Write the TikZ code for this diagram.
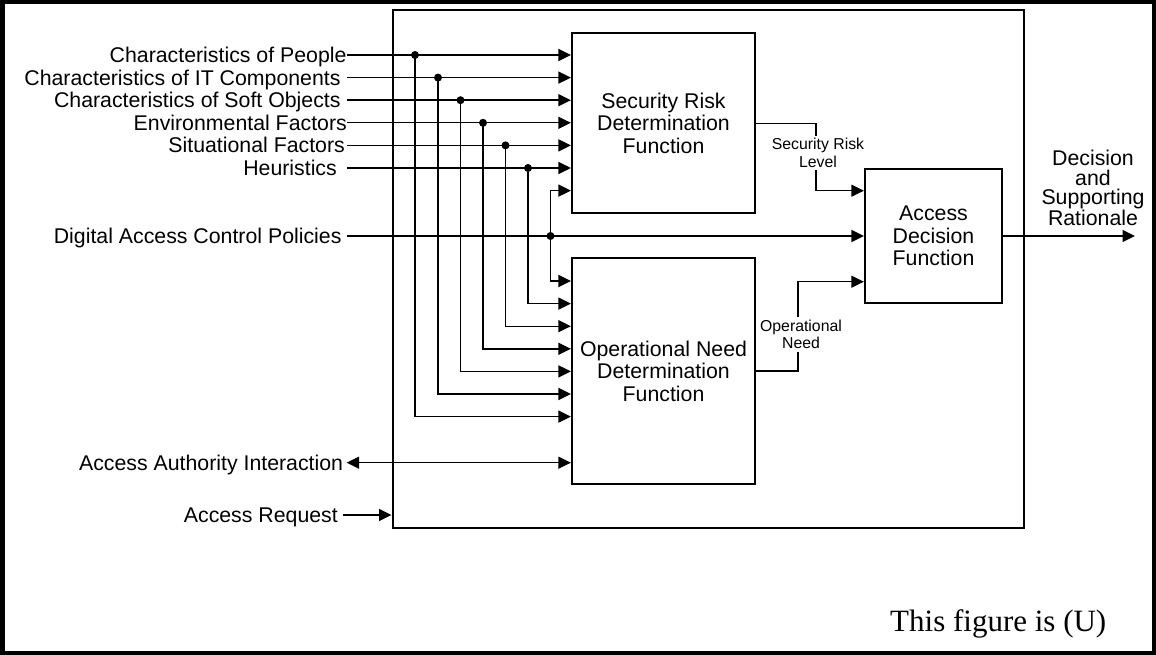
\documentclass[tikz,border=0pt]{standalone}
\usepackage{fontspec}
\setmainfont{Liberation Serif}
\newfontfamily\arialf{Liberation Sans}
\usetikzlibrary{arrows.meta}
\newcommand\figbig{\arialf\fontsize{21.3}{22.6}\selectfont}
\newcommand\figsmall{\arialf\fontsize{15.8}{17.6}\selectfont}
\begin{document}
\begin{tikzpicture}[x=1pt,y=-1pt,
  wire/.style={line width=1.4pt},
  arr/.style={wire,-{Triangle[length=12.5pt,width=12pt]}},
  dblarr/.style={wire,{Triangle[length=12.5pt,width=12pt]}-{Triangle[length=12.5pt,width=12pt]}},
  fbox/.style={draw,line width=2.2pt,rectangle,inner sep=0pt,align=center,font=\figbig},
  lbl/.style={font=\figbig,anchor=east,inner sep=0pt,text height=15.2pt,text depth=0pt},
  tag/.style={font=\figsmall,align=center,inner sep=2.5pt},
  junc/.style={circle,fill,inner sep=0pt,minimum size=8pt}
]
\useasboundingbox (0,0) rectangle (1156,655);
% outer frame
\draw[line width=4.5pt] (2.25,2.25) rectangle (1153.75,652.75);

% system boundary and function blocks
\node[draw,line width=2pt,inner sep=0pt,minimum width=631.5pt,minimum height=517.5pt] (sys) at (708.25,269.25) {};
\node[fbox,minimum width=183pt,minimum height=180pt] (srdf) at (663.5,123) {Security Risk\\Determination\\Function};
\node[fbox,minimum width=183pt,minimum height=226pt] (ondf) at (663.5,371) {Operational Need\\Determination\\Function};
\node[fbox,minimum width=137pt,minimum height=134pt] (adf) at (933.5,236) {Access\\Decision\\Function};

% input labels
\node[lbl] (lP) at (346.7,55) {Characteristics of People};
\node[lbl] (lI) at (340.7,77.6) {Characteristics of IT Components};
\node[lbl] (lS) at (340.7,100.2) {Characteristics of Soft Objects};
\node[lbl] (lE) at (347,122.8) {Environmental Factors};
\node[lbl] (lT) at (345,145.4) {Situational Factors};
\node[lbl] (lH) at (337,168) {Heuristics};
\node[lbl] (lD) at (341.7,236) {Digital Access Control Policies};
\node[lbl] (lA) at (343.3,462.7) {Access Authority Interaction};
\node[lbl] (lR) at (338,515) {Access Request};

% line starts
\coordinate (iP) at (347,55);
\coordinate (iI) at (347,77.6);
\coordinate (iS) at (347,100.2);
\coordinate (iE) at (347,122.8);
\coordinate (iT) at (347,145.4);
\coordinate (iH) at (347,168);
\coordinate (iD) at (347,236);
\coordinate (iA) at (346.7,462.7);
\coordinate (iR) at (343,515);

% inputs into the security risk block
\foreach \c in {iP,iI,iS,iE,iT,iH} {
  \draw[arr] (\c) -- (srdf.west |- \c);
}
% branch points
\node[junc] (jP) at (415,55) {};
\node[junc] (jI) at (438,77.6) {};
\node[junc] (jS) at (460.5,100.2) {};
\node[junc] (jE) at (483,122.8) {};
\node[junc] (jT) at (505.5,145.4) {};
\node[junc] (jH) at (528,168) {};
\node[junc] (jD) at (550.5,236) {};

% branches into the operational need block
\draw[arr] (jP.center) |- (ondf.west |- 0,416.6);
\draw[arr] (jI.center) |- (ondf.west |- 0,394);
\draw[arr] (jS.center) |- (ondf.west |- 0,371.4);
\draw[arr] (jE.center) |- (ondf.west |- 0,348.8);
\draw[arr] (jT.center) |- (ondf.west |- 0,326.2);
\draw[arr] (jH.center) |- (ondf.west |- 0,303.6);
\draw[arr] (jD.center) |- (ondf.west |- 0,281);
\draw[arr] (jD.center) |- (srdf.west |- 0,190.6);

% policies straight to the decision block
\draw[arr] (iD) -- (adf.west |- iD);

% authority interaction and request
\draw[dblarr] (iA) -- (ondf.west |- iA);
\draw[arr] (iR) -- (sys.west |- iR);

% intermediate results
\node[tag] (srl) at (818,153) {Security Risk\\Level};
\draw[wire] (srdf.east |- 0,123.3) -| (srl.north -| 816,0);
\draw[arr] (srl.south -| 816,0) |- (adf.west |- 0,190.7);

\node[tag] (onl) at (801,334.5) {Operational\\Need};
\draw[wire] (ondf.east |- 0,371) -| (onl.south -| 798,0);
\draw[arr] (onl.north -| 798,0) |- (adf.west |- 0,281.7);

% decision output
\coordinate (out) at (1135,236);
\draw[arr] (adf.east) -- (out);
\node[font=\arialf\fontsize{21.3}{19.7}\selectfont,align=center,inner sep=0pt] (dec) at (1093,188) {Decision\\and\\Supporting\\Rationale};

% marking
\node[font=\fontsize{31}{36}\selectfont,anchor=base west,inner sep=0pt] (mark) at (890,631) {This figure is (U)};
\end{tikzpicture}
\end{document}
